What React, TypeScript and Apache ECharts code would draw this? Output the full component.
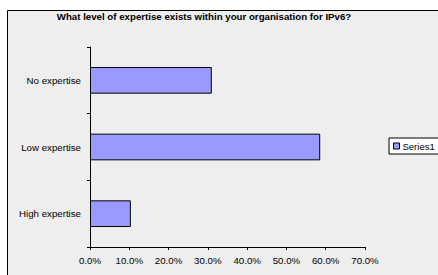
import React, { useEffect, useRef } from "react";
import * as echarts from "echarts";

const categories = ["No expertise", "Low expertise", "High expertise"];
const seriesValues = [31.0, 58.6, 10.4];
const xTicks = { min: 0, max: 70, interval: 10 };
const seriesName = "Series1";
const title = "What level of expertise exists within your organisation for IPv6?";

export default function App() {
  const ref = useRef<HTMLDivElement>(null);
  useEffect(() => {
    if (!ref.current) return;
    const chart = echarts.init(ref.current, undefined, { renderer: "svg" });
    const font = "'Liberation Sans', Arial, sans-serif";
    chart.setOption({
      animation: false,
      backgroundColor: "#ffffff",
      textStyle: { fontFamily: font },
      graphic: [
        {
          type: "rect",
          z: -10,
          silent: true,
          shape: { x: 7.5, y: 10.5, width: 460, height: 300 },
          style: { fill: "#eeeeee", stroke: "#000000", lineWidth: 1 },
        },
      ],
      title: {
        text: title,
        left: 204,
        top: 11,
        padding: 0,
        textAlign: "center",
        textStyle: { fontFamily: font, fontSize: 9.7, fontWeight: "bold", color: "#000000" },
      },
      legend: {
        data: [seriesName],
        left: 389,
        top: 138,
        orient: "vertical",
        backgroundColor: "#ffffff",
        borderColor: "#000000",
        borderWidth: 1,
        borderRadius: 0,
        padding: [3, 30, 3, 4],
        itemWidth: 6,
        itemHeight: 6,
        itemGap: 0,
        icon: "rect",
        itemStyle: { color: "#9999ff", borderColor: "#000000", borderWidth: 1 },
        textStyle: { fontFamily: font, fontSize: 9.5, color: "#000000", padding: [0, 0, 0, -2] },
      },
      grid: { left: 90, top: 47, width: 275, height: 200, containLabel: false },
      xAxis: {
        type: "value",
        min: xTicks.min,
        max: xTicks.max,
        interval: xTicks.interval,
        splitLine: { show: false },
        axisLine: { show: true, lineStyle: { color: "#000000", width: 1 } },
        axisTick: { show: true, length: 3, lineStyle: { color: "#000000" } },
        axisLabel: {
          fontFamily: font,
          fontSize: 9.7,
          color: "#000000",
          margin: 8,
          formatter: (v: number) => v.toFixed(1) + "%",
        },
      },
      yAxis: {
        type: "category",
        data: categories,
        inverse: true,
        axisLine: { show: true, lineStyle: { color: "#000000", width: 1 } },
        axisTick: { show: true, length: 3, lineStyle: { color: "#000000" } },
        axisLabel: { fontFamily: font, fontSize: 9.7, color: "#000000", margin: 9 },
        splitLine: { show: false },
      },
      series: [
        {
          name: seriesName,
          type: "bar",
          data: seriesValues,
          barWidth: "40%",
          itemStyle: { color: "#9999ff", borderColor: "#000000", borderWidth: 1 },
        },
      ],
    });
    return () => chart.dispose();
  }, []);
  return (
    <div
      ref={ref}
      style={{ position: "fixed", left: 0, top: 0, width: 438, height: 275 }}
    />
  );
}
